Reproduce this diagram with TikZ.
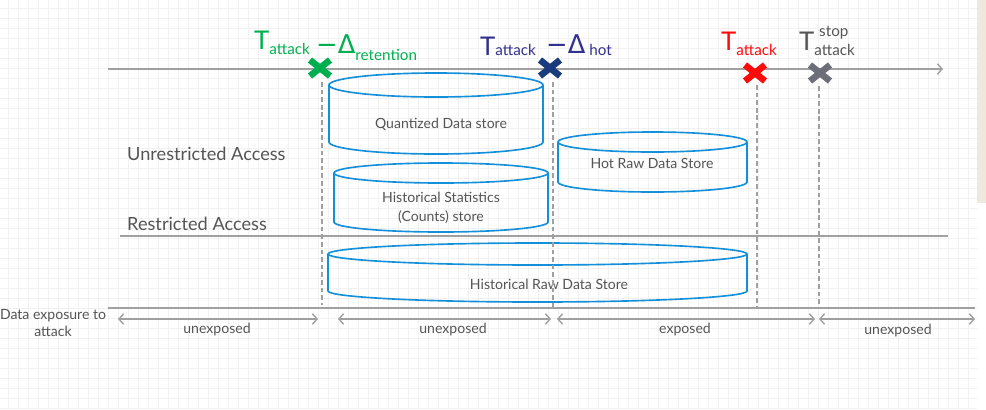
\documentclass[tikz,border=0pt]{standalone}
\usepackage{fontspec}
\setmainfont{Lato}
\newfontfamily\symfont{DejaVu Sans}
\usetikzlibrary{arrows.meta}
\usetikzlibrary{positioning}
\usetikzlibrary{calc}
\definecolor{storeblue}{HTML}{1490DA}
\definecolor{linegray}{HTML}{A0A0A0}
\definecolor{textgray}{HTML}{555555}
\definecolor{tgreen}{HTML}{00B050}
\definecolor{tblue}{HTML}{33308F}
\definecolor{xblue}{HTML}{1B3C7C}
\definecolor{tred}{HTML}{FF0A0A}
\definecolor{xgray}{HTML}{6C6F78}
\definecolor{tgray}{HTML}{555555}
\definecolor{gridgray}{HTML}{F1F1F1}
\definecolor{sidebar}{HTML}{EDE9DF}
\def\bigT{\fontsize{22}{22}\selectfont}
\def\subT{\fontsize{13}{14}\selectfont}
\tikzset{
axis/.style={linegray, line width=1.2pt},
guide/.style={linegray, line width=1.1pt, dash pattern=on 4pt off 2.5pt},
store/.style={storeblue, line width=1.4pt},
storetext/.style={textgray, font=\fontsize{12}{16}\selectfont, align=center},
zone/.style={textgray, font=\fontsize{15.5}{18}\selectfont, anchor=west, inner sep=0pt},
span/.style={linegray, line width=1.2pt, {Straight Barb[length=4pt,width=9pt]}-{Straight Barb[length=4pt,width=9pt]}},
spantext/.style={textgray, font=\fontsize{12}{15}\selectfont},
hit/.style={line width=5.6pt},
}
% cylinder: name, left x, right x, top y, bottom y, y radius
\newcommand{\datastore}[6]{%
	\draw[store] (#2,#4) -- (#2,#5) arc[start angle=180, end angle=0, x radius={(#3-#2)/2}, y radius=#6] -- (#3,#4);
	\draw[store] ({(#2+#3)/2},#4) ellipse [x radius={(#3-#2)/2}, y radius=#6];
	\coordinate (#1) at ({(#2+#3)/2},{(#4+#5)/2});
}
\newcommand{\attackmark}[2]{%
	\draw[hit, #2] ($(#1)+(-10,-8)$) -- ($(#1)+(10,8)$);
	\draw[hit, #2] ($(#1)+(-10,8)$) -- ($(#1)+(10,-8)$);
}
\begin{document}
\begin{tikzpicture}[x=0.03cm, y=-0.03cm]
\useasboundingbox (0,0) rectangle (986,409);
% background grid
\fill[white] (0,0) rectangle (986,409);
\foreach \gx in {8,18,...,968} \draw[gridgray, line width=0.5pt] (\gx,0) -- (\gx,409);
\foreach \gy in {8,18,...,408} \draw[gridgray, line width=0.5pt] (0,\gy) -- (977,\gy);
\fill[sidebar] (977,0) rectangle (986,203);

%Place the time axis and attack points
\coordinate (tstart) at (108,69);
\coordinate (tend) at (943,69);
\draw[axis, -{Straight Barb[length=4pt,width=9pt]}] (tstart) -- (tend);

\coordinate (xret) at (320,68);
\coordinate (xhot) at (550,68);
\coordinate (xatk) at (755,73);
\coordinate (xstop) at (820,73);

% access zones
\node[zone] (unres) at (127,154) {Unrestricted Access};
\node[zone] (res) at (127,224) {Restricted Access};
\coordinate (rstart) at (120,236);
\coordinate (rend) at (948,236);
\draw[axis] (rstart) -- (rend);

% data stores
\datastore{quant}{329}{543}{85}{142}{12}
\datastore{stats}{334}{548}{173}{222}{10}
\datastore{hotraw}{558}{747}{142}{182}{10}
\datastore{histraw}{328}{747}{254}{291}{11}
\node[storetext] at (441,124) {Quantized Data store};
\node[storetext] at (441,208) {Historical Statistics\\(Counts) store};
\node[storetext] at (652,163) {Hot Raw Data Store};
\node[storetext] at (549,284) {Historical Raw Data Store};

% dashed guides
\coordinate (gret) at (322,305);
\coordinate (ghot) at (553,308);
\coordinate (gatk) at (757,308);
\coordinate (gstop) at (819,308);
\draw[guide] (322,82) -- (gret);
\draw[guide] (553,82) -- (ghot);
\draw[guide] (757,85) -- (gatk);
\draw[guide] (819,86) -- (gstop);

% attack marks and labels
\attackmark{xret}{tgreen}
\attackmark{xhot}{xblue}
\attackmark{xatk}{tred}
\attackmark{xstop}{xgray}

\node[tgreen, anchor=base west, inner sep=0pt] (lret) at (254,49)
	{{\bigT T}\raisebox{-5pt}{\subT attack}};
\node[tgreen, anchor=base west, inner sep=0pt] (dret) at (316,53)
	{{\symfont\fontsize{22}{22}\selectfont −Δ}\raisebox{-6pt}{\subT retention}};
\node[tblue, anchor=base west, inner sep=0pt] (lhot) at (480,55)
	{{\bigT T}{\subT attack}};
\node[tblue, anchor=base west, inner sep=0pt] (dhot) at (546,53)
	{{\symfont\fontsize{22}{22}\selectfont −Δ}\raisebox{-2pt}{\subT\ hot}};
\node[tred, anchor=base west, inner sep=0pt] (latk) at (721,50)
	{{\bigT T}\raisebox{-5pt}{\subT attack}};
\node[tgray, anchor=base west, inner sep=0pt] (lstop) at (799,50)
	{{\bigT T}\raisebox{-5pt}{\subT attack}};
\node[tgray, anchor=base west, inner sep=0pt] at (819,36) {\subT stop};

% exposure spans
\coordinate (bstart) at (108,308);
\coordinate (bend) at (975,308);
\draw[axis] (bstart) -- (bend);
\node[spantext, align=center] (expo) at (53,323) {Data exposure to\\attack};
\coordinate (s0) at (118,319);
\coordinate (s1) at (318,319);
\coordinate (s2) at (338,319);
\coordinate (s3) at (551,319);
\coordinate (s4) at (557,319);
\coordinate (s5) at (815,319);
\coordinate (s6) at (819,319);
\coordinate (s7) at (975,319);
\draw[span] (s0) -- (s1);
\draw[span] (s2) -- (s3);
\draw[span] (s4) -- (s5);
\draw[span] (s6) -- (s7);
\node[spantext] at (217,330) {unexposed};
\node[spantext] at (453,330) {unexposed};
\node[spantext] at (685,330) {exposed};
\node[spantext] at (898,331) {unexposed};
\end{tikzpicture}
\end{document}
